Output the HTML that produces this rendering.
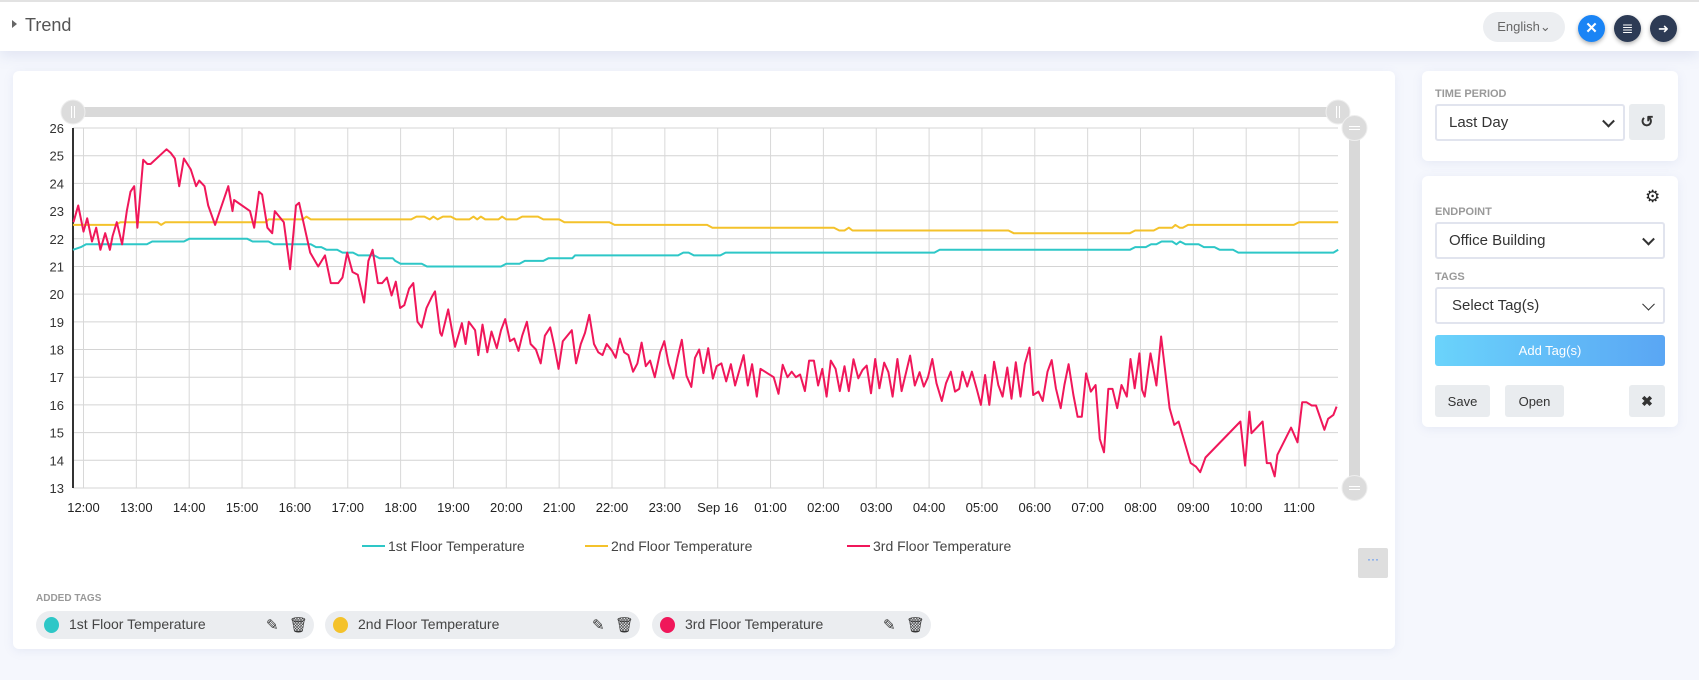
<!DOCTYPE html>
<html><head><meta charset="utf-8"><style>
*{box-sizing:border-box;margin:0;padding:0}
body{width:1699px;height:680px;overflow:hidden;background:#f5f7fd;font-family:"Liberation Sans",sans-serif;position:relative;color:#333}
.abs{position:absolute}
.card{position:absolute;background:#fff;border-radius:6px;box-shadow:0 2px 10px rgba(120,140,190,0.12)}
.lbl{position:absolute;font-size:11px;font-weight:bold;color:#999}
.sel{position:absolute;background:#fff;border:2px solid #e1e4ee;border-radius:3px;font-size:15px;color:#333;padding-left:12px;display:flex;align-items:center}
.chev{position:absolute;right:10px;top:50%;width:9px;height:9px;border-right:2px solid #333;border-bottom:2px solid #333;transform:translateY(-70%) rotate(45deg)}
.btn{position:absolute;background:#e9ecef;border-radius:3px;font-size:13px;color:#333;display:flex;align-items:center;justify-content:center}
.pill{position:absolute;top:611px;height:28px;background:#ebedf0;border-radius:14px;font-size:14px;color:#444}
.pill .dot{position:absolute;left:8px;top:6px;width:15px;height:16px;border-radius:50%}
.pill .t{position:absolute;left:33px;top:5px}
.pill .ic{position:absolute;top:5px;font-size:15px;color:#333}
</style></head><body>
<div class="abs" style="left:0;top:0;width:1699px;height:51px;background:#fff;border-top:2px solid #e2e2e2;box-shadow:0 4px 14px rgba(120,140,190,0.18)"></div>
<div class="abs" style="left:12px;top:20px;width:0;height:0;border-top:4px solid transparent;border-bottom:4px solid transparent;border-left:5px solid #666"></div>
<div class="abs" style="left:25px;top:15px;font-size:18px;color:#555">Trend</div>
<div class="abs" style="left:1483px;top:12px;width:82px;height:30px;border-radius:15px;background:#eceef1;font-size:13px;color:#666;text-align:center;line-height:30px">English⌄</div>
<div class="abs" style="left:1578px;top:15px;width:27px;height:27px;border-radius:50%;background:#1a84f5;box-shadow:0 2px 4px rgba(0,0,0,.3);color:#fff;font-size:15px;text-align:center;line-height:27px;font-weight:bold">✕</div>
<div class="abs" style="left:1614px;top:15px;width:27px;height:27px;border-radius:50%;background:#2d3b55;box-shadow:0 2px 4px rgba(0,0,0,.3);color:#fff;font-size:14px;text-align:center;line-height:27px">≣</div>
<div class="abs" style="left:1650px;top:15px;width:27px;height:27px;border-radius:50%;background:#2d3b55;box-shadow:0 2px 4px rgba(0,0,0,.3);color:#fff;font-size:13px;text-align:center;line-height:27px">➜</div>

<div class="card" style="left:13px;top:71px;width:1382px;height:578px"></div>
<svg class="abs" style="left:0;top:0" width="1400" height="600" id="chart"></svg>

<div class="abs" style="left:1358px;top:548px;width:30px;height:30px;background:#dedede;border-radius:2px;color:#3b82f6;font-size:12px;text-align:center;line-height:22px">···</div>
<div class="lbl" style="left:36px;top:593px;font-size:10px">ADDED TAGS</div>
<div class="pill" style="left:36px;width:278px"><span class="dot" style="background:#2ec7c7"></span><span class="t">1st Floor Temperature</span><span class="ic" style="left:230px">✎</span><span class="ic" style="left:253px">🗑</span></div>
<div class="pill" style="left:325px;width:315px"><span class="dot" style="background:#f4c22b"></span><span class="t">2nd Floor Temperature</span><span class="ic" style="left:267px">✎</span><span class="ic" style="left:290px">🗑</span></div>
<div class="pill" style="left:652px;width:279px"><span class="dot" style="background:#f0175a"></span><span class="t">3rd Floor Temperature</span><span class="ic" style="left:231px">✎</span><span class="ic" style="left:254px">🗑</span></div>

<div class="card" style="left:1422px;top:71px;width:256px;height:90px"></div>
<div class="lbl" style="left:1435px;top:88px">TIME PERIOD</div>
<div class="sel" style="left:1435px;top:104px;width:190px;height:37px">Last Day<span class="chev"></span></div>
<div class="btn" style="left:1629px;top:104px;width:36px;height:36px;font-size:16px;font-weight:bold">↺</div>

<div class="card" style="left:1422px;top:176px;width:256px;height:251px"></div>
<div class="abs" style="left:1645px;top:187px;font-size:17px;color:#222">⚙</div>
<div class="lbl" style="left:1435px;top:206px">ENDPOINT</div>
<div class="sel" style="left:1435px;top:222px;width:230px;height:37px">Office Building<span class="chev"></span></div>
<div class="lbl" style="left:1435px;top:271px">TAGS</div>
<div class="sel" style="left:1435px;top:287px;width:230px;height:37px;padding-left:15px">Select Tag(s)<span class="chev" style="border-width:1.5px"></span></div>
<div class="btn" style="left:1435px;top:335px;width:230px;height:31px;background:linear-gradient(90deg,#6ad3fb,#5aa6f4);color:#fff;font-size:13px">Add Tag(s)</div>
<div class="btn" style="left:1435px;top:385px;width:55px;height:32px">Save</div>
<div class="btn" style="left:1505px;top:385px;width:59px;height:32px">Open</div>
<div class="btn" style="left:1629px;top:385px;width:36px;height:32px;font-weight:bold;font-size:14px">✖</div>

<script>
const yTicks=[13,14,15,16,17,18,19,20,21,22,23,24,25,26];
const xTickLabels=["12:00","13:00","14:00","15:00","16:00","17:00","18:00","19:00","20:00","21:00","22:00","23:00","Sep 16","01:00","02:00","03:00","04:00","05:00","06:00","07:00","08:00","09:00","10:00","11:00"];
const seriesNames=["1st Floor Temperature","2nd Floor Temperature","3rd Floor Temperature"];
const seriesColors=["#2ec7c7","#f4c22b","#f0175a"];
// hours since 12:00
const teal=[[-0.2,21.6],[-0.05,21.7],[0.05,21.8],[1.2,21.8],[1.3,21.9],[1.9,21.9],[2.0,22.0],[3.1,22.0],[3.2,21.9],[3.5,21.9],[3.6,21.8],[4.3,21.8],[4.4,21.7],[4.5,21.7],[4.6,21.6],[4.8,21.6],[4.9,21.5],[5.1,21.5],[5.2,21.4],[5.5,21.4],[5.6,21.3],[5.85,21.3],[5.9,21.2],[6.0,21.1],[6.4,21.1],[6.5,21.0],[7.9,21.0],[8.0,21.1],[8.25,21.1],[8.35,21.2],[8.7,21.2],[8.8,21.3],[9.25,21.3],[9.3,21.4],[11.25,21.4],[11.35,21.5],[11.45,21.5],[11.55,21.4],[12.05,21.4],[12.15,21.5],[16.1,21.5],[16.2,21.6],[19.8,21.6],[19.9,21.7],[20.1,21.7],[20.2,21.8],[20.3,21.8],[20.4,21.9],[20.6,21.9],[20.68,21.8],[20.75,21.9],[20.85,21.8],[21.1,21.8],[21.2,21.7],[21.4,21.7],[21.5,21.6],[21.75,21.6],[21.85,21.5],[23.65,21.5],[23.74,21.6]];
const yellow=[[-0.2,22.5],[0.6,22.5],[0.7,22.6],[1.4,22.6],[1.47,22.5],[1.55,22.6],[3.45,22.6],[3.5,22.7],[4.15,22.7],[4.22,22.8],[4.3,22.7],[6.2,22.7],[6.3,22.8],[6.45,22.8],[6.55,22.7],[6.62,22.8],[6.7,22.7],[6.8,22.8],[6.95,22.8],[7.05,22.7],[7.3,22.7],[7.38,22.8],[7.45,22.7],[7.52,22.8],[7.6,22.7],[7.85,22.7],[7.92,22.8],[8.0,22.7],[8.2,22.7],[8.3,22.8],[8.6,22.8],[8.7,22.7],[9.0,22.7],[9.1,22.6],[9.95,22.6],[10.05,22.5],[11.8,22.5],[11.9,22.4],[14.2,22.4],[14.3,22.3],[14.4,22.3],[14.48,22.4],[14.55,22.3],[17.5,22.3],[17.6,22.2],[19.8,22.2],[19.9,22.3],[20.25,22.3],[20.35,22.4],[20.6,22.4],[20.66,22.5],[20.74,22.4],[20.8,22.4],[20.9,22.5],[22.9,22.5],[23.0,22.6],[23.74,22.6]];
const red=[[-0.19,22.6],[-0.1,23.2],[0,22.26],[0.07,22.74],[0.16,21.9],[0.24,22.4],[0.32,21.6],[0.41,22.2],[0.5,21.6],[0.55,22.1],[0.63,22.6],[0.73,21.8],[0.82,23.0],[0.89,23.7],[0.96,23.9],[1.02,22.4],[1.13,24.85],[1.21,24.7],[1.27,24.7],[1.57,25.23],[1.65,25.1],[1.73,24.9],[1.81,23.9],[1.9,24.9],[2.03,24.5],[2.13,23.9],[2.19,24.1],[2.29,23.9],[2.36,23.2],[2.49,22.5],[2.74,23.9],[2.82,23.0],[2.85,23.4],[3.15,23.0],[3.23,22.4],[3.32,23.7],[3.38,23.6],[3.48,22.4],[3.57,22.2],[3.62,23.0],[3.79,22.6],[3.91,20.9],[4.02,23.2],[4.08,23.3],[4.29,21.5],[4.44,21.0],[4.57,21.4],[4.68,20.4],[4.82,20.4],[4.9,20.6],[4.99,21.5],[5.09,20.8],[5.19,20.7],[5.31,19.7],[5.39,21.2],[5.47,21.6],[5.57,20.4],[5.65,20.4],[5.74,20.6],[5.83,19.95],[5.91,20.45],[5.99,19.5],[6.07,19.6],[6.16,20.2],[6.24,20.4],[6.32,19.0],[6.4,18.8],[6.49,19.5],[6.59,19.9],[6.65,20.1],[6.75,18.6],[6.78,18.5],[6.9,19.45],[7.03,18.1],[7.16,18.95],[7.23,18.2],[7.29,19.0],[7.41,18.7],[7.47,17.8],[7.55,18.9],[7.64,17.9],[7.72,18.65],[7.82,18.05],[7.9,18.7],[7.98,19.1],[8.07,18.3],[8.15,18.4],[8.23,17.95],[8.3,18.5],[8.39,19.0],[8.46,18.2],[8.56,18.0],[8.65,17.5],[8.73,18.5],[8.83,18.8],[8.9,18.2],[8.99,17.3],[9.07,18.3],[9.24,18.7],[9.32,17.5],[9.41,18.2],[9.49,18.6],[9.57,19.25],[9.66,18.2],[9.74,17.9],[9.82,17.8],[9.9,18.2],[10.0,17.95],[10.07,17.7],[10.15,18.4],[10.23,17.9],[10.31,17.8],[10.4,17.2],[10.48,17.5],[10.56,18.25],[10.64,17.4],[10.72,17.6],[10.81,17.0],[10.91,17.9],[10.99,18.3],[11.07,17.5],[11.16,16.95],[11.24,17.7],[11.32,18.35],[11.41,17.05],[11.5,16.65],[11.57,17.7],[11.65,18.0],[11.73,17.15],[11.82,18.05],[11.91,16.95],[11.98,17.4],[12.07,17.5],[12.16,16.85],[12.25,17.47],[12.33,16.7],[12.49,17.8],[12.57,16.7],[12.65,17.47],[12.74,16.3],[12.81,17.3],[13.06,17.0],[13.15,16.4],[13.23,17.45],[13.32,17.0],[13.4,17.2],[13.48,17.0],[13.56,17.1],[13.65,16.5],[13.73,17.6],[13.82,17.6],[13.9,16.7],[13.98,17.3],[14.06,16.3],[14.14,17.6],[14.23,17.3],[14.31,16.5],[14.4,17.4],[14.48,16.5],[14.57,17.65],[14.66,16.96],[14.74,17.26],[14.82,17.42],[14.9,16.42],[14.98,17.66],[15.06,16.6],[15.15,17.53],[15.23,17.18],[15.31,16.3],[15.4,17.66],[15.48,16.5],[15.64,17.78],[15.73,16.7],[15.82,17.18],[15.9,16.66],[15.98,17.0],[16.06,17.66],[16.14,16.78],[16.24,16.14],[16.32,16.78],[16.41,17.2],[16.49,16.48],[16.57,16.58],[16.63,17.2],[16.72,16.66],[16.81,17.2],[16.9,16.58],[16.98,16.0],[17.06,17.08],[17.14,16.0],[17.23,17.56],[17.31,16.72],[17.39,16.3],[17.48,17.35],[17.56,16.22],[17.64,17.54],[17.73,16.3],[17.81,17.47],[17.9,18.07],[17.97,16.36],[18.07,16.48],[18.15,16.14],[18.24,17.2],[18.32,17.62],[18.4,16.6],[18.49,15.88],[18.56,16.72],[18.64,17.47],[18.73,16.36],[18.81,15.57],[18.89,15.57],[18.97,17.14],[19.06,16.48],[19.15,16.72],[19.23,14.77],[19.31,14.29],[19.39,16.58],[19.47,16.58],[19.56,15.88],[19.64,16.72],[19.74,16.3],[19.81,17.66],[19.89,16.6],[19.98,17.86],[20.03,16.54],[20.08,16.3],[20.19,17.86],[20.3,16.7],[20.39,18.47],[20.55,15.88],[20.64,15.28],[20.72,15.4],[20.95,13.9],[21.05,13.77],[21.13,13.57],[21.23,14.1],[21.89,15.4],[21.98,13.81],[22.06,15.76],[22.1,14.98],[22.31,15.4],[22.39,13.9],[22.46,13.9],[22.54,13.42],[22.59,14.2],[22.85,15.18],[22.97,14.65],[23.06,16.1],[23.14,16.1],[23.24,15.98],[23.32,15.98],[23.48,15.1],[23.55,15.5],[23.65,15.64],[23.71,15.94]];

const NS="http://www.w3.org/2000/svg";
const svg=document.getElementById('chart');
const X0=73,X1=1338,Y0=128,Y1=488;
function xs(h){return 83.5+h*52.85;}
function ys(v){return Y0+(26-v)*(Y1-Y0)/13;}
function mk(tag,attrs,parent){const e=document.createElementNS(NS,tag);for(const k in attrs)e.setAttribute(k,attrs[k]);(parent||svg).appendChild(e);return e;}

let sb=mk('rect',{x:X0,y:107,width:X1-X0,height:10,fill:'#d9d9d9'});


[X0,X1].forEach(function(cx,i){
  const c=mk('circle',{cx:cx,cy:112,r:12,fill:'#dcdcdc',stroke:'#eee','stroke-width':1});
  
  
  mk('line',{x1:cx-1.5,y1:106,x2:cx-1.5,y2:118,stroke:'#fff','stroke-width':1});
  mk('line',{x1:cx+1.5,y1:106,x2:cx+1.5,y2:118,stroke:'#fff','stroke-width':1});
});
let vb=mk('rect',{x:1349,y:Y0,width:11,height:Y1-Y0,fill:'#d9d9d9'});


[Y0,Y1].forEach(function(cy,i){
  const c=mk('circle',{cx:1354.5,cy:cy,r:12.5,fill:'#dcdcdc',stroke:'#eee','stroke-width':1});
  
  
  mk('line',{x1:1349,y1:cy-1.5,x2:1360,y2:cy-1.5,stroke:'#fff','stroke-width':1});
  mk('line',{x1:1349,y1:cy+1.5,x2:1360,y2:cy+1.5,stroke:'#fff','stroke-width':1});
});

yTicks.forEach(function(v){
  const l=mk('line',{x1:X0,x2:X1,y1:ys(v),y2:ys(v),stroke:'#d4d4d4','stroke-width':1});
  
  
  const t=mk('text',{x:64,y:ys(v)+5,'text-anchor':'end','font-size':13,fill:'#333','font-family':'Liberation Sans, sans-serif'});
  t.textContent=v;
  
  
});
xTickLabels.forEach(function(lab,i){
  const x=xs(i);
  const l=mk('line',{x1:x,x2:x,y1:Y0,y2:Y1,stroke:'#d8d8d8','stroke-width':1});
  
  
  const t=mk('text',{x:x,y:512,'text-anchor':'middle','font-size':13,fill:'#222','font-family':'Liberation Sans, sans-serif'});
  t.textContent=lab;
  
  
});
let ax=mk('line',{x1:X0,x2:X0,y1:Y0,y2:Y1,stroke:'#333','stroke-width':2});



[teal,yellow,red].forEach(function(d,i){
  const pts=d.map(function(p){return xs(p[0]).toFixed(1)+','+ys(p[1]).toFixed(1);}).join(' ');
  const pl=mk('polyline',{points:pts,fill:'none',stroke:seriesColors[i],'stroke-width':2,'stroke-linejoin':'round'});
  
  
});

const legX=[362,585,847];
seriesNames.forEach(function(n,i){
  const g=mk('g',{});
  
  
  mk('line',{x1:legX[i],x2:legX[i]+23,y1:546,y2:546,stroke:seriesColors[i],'stroke-width':2},g);
  const t=mk('text',{x:legX[i]+26,y:551,'font-size':14,fill:'#444','font-family':'Liberation Sans, sans-serif'},g);
  t.textContent=n;
});
</script>
</body></html>
